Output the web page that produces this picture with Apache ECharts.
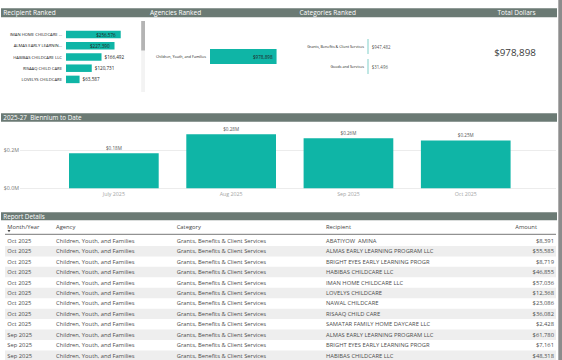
<!DOCTYPE html>
<html><head><meta charset="utf-8">
<script src="https://cdn.jsdelivr.net/npm/echarts@6/dist/echarts.min.js"></script>
<style>html,body{margin:0;padding:0;background:#fff}#c{width:562px;height:360px}</style>
</head><body><div id="c"></div>
<script>
// ---------- data ----------
const recipients = ['IMAN HOME CHILDCARE ...', 'ALMAS EARLY LEARNIN...', 'HABIBAS CHILDCARE LLC', 'RISAAQ CHILD CARE', 'LOVELYS CHILDCARE'];
const recipientTotals = [256576, 227390, 166492, 120731, 63587];
const agencies = ['Children, Youth, and Families'];
const agencyTotals = [978898];
const categories = ['Grants, Benefits & Client Services', 'Goods and Services'];
const categoryTotals = [947482, 31496];
const totalDollars = 978898;
const months = ['July 2025', 'Aug 2025', 'Sep 2025', 'Oct 2025'];
const monthTotals = [183900, 282700, 261748, 250550];
const monthTicks = [0, 200000];
const tableHeaders = ['Month/Year', 'Agency', 'Category', 'Recipient', 'Amount'];
const tableMonth = ['Oct 2025','Oct 2025','Oct 2025','Oct 2025','Oct 2025','Oct 2025','Oct 2025','Oct 2025','Oct 2025','Sep 2025','Sep 2025','Sep 2025'];
const tableAgency = ['Children, Youth, and Families','Children, Youth, and Families','Children, Youth, and Families','Children, Youth, and Families','Children, Youth, and Families','Children, Youth, and Families','Children, Youth, and Families','Children, Youth, and Families','Children, Youth, and Families','Children, Youth, and Families','Children, Youth, and Families','Children, Youth, and Families'];
const tableCategory = ['Grants, Benefits & Client Services','Grants, Benefits & Client Services','Grants, Benefits & Client Services','Grants, Benefits & Client Services','Grants, Benefits & Client Services','Grants, Benefits & Client Services','Grants, Benefits & Client Services','Grants, Benefits & Client Services','Grants, Benefits & Client Services','Grants, Benefits & Client Services','Grants, Benefits & Client Services','Grants, Benefits & Client Services'];
const tableRecipient = ['ABATIYOW  AMINA','ALMAS EARLY LEARNING PROGRAM LLC','BRIGHT EYES EARLY LEARNING PROGR','HABIBAS CHILDCARE LLC','IMAN HOME CHILDCARE LLC','LOVELYS CHILDCARE','NAWAL CHILDCARE','RISAAQ CHILD CARE','SAMATAR FAMILY HOME DAYCARE LLC','ALMAS EARLY LEARNING PROGRAM LLC','BRIGHT EYES EARLY LEARNING PROGR','HABIBAS CHILDCARE LLC'];
const tableAmount = [8391, 55585, 8719, 46855, 57036, 12368, 23086, 36082, 2428, 61780, 7161, 48318];

// ---------- styling ----------
const FONT = "'Segoe UI','Open Sans',sans-serif";
const TEAL = '#0fb5a6';
const HEAD = '#6b7a74';
const money = v => '$' + Math.round(v).toLocaleString('en-US');
const mill = (v, d) => '$' + (v / 1e6).toFixed(d) + 'M';

const chart = echarts.init(document.getElementById('c'), null, {renderer: 'svg'});

const g = [];
function rect(x, y, w, h, fill) { g.push({type: 'rect', silent: true, z: 1, shape: {x, y, width: w, height: h}, style: {fill}}); }
function text(t, x, y, size, fill, align) {
  g.push({type: 'text', silent: true, z: 5, x, y, style: {text: t, fontSize: size, fontFamily: FONT, fill, align: align || 'left', verticalAlign: 'middle'}});
}
// header bars
rect(1, 8.3, 556, 9, HEAD);
text('Recipient Ranked', 3.3, 12.9, 6.5, '#fff');
text('Agencies Ranked', 150, 12.9, 6.5, '#fff');
text('Categories Ranked', 299.5, 12.9, 6.5, '#fff');
text('Total Dollars', 497.5, 12.9, 6.5, '#fff');
rect(1, 113.3, 556, 8.5, HEAD);
text('2025-27  Biennium to Date', 3.3, 117.6, 6.3, '#fff');
rect(1, 212.3, 556, 8, HEAD);
text('Report Details', 3.3, 216.4, 6.3, '#fff');
// scrollbar
rect(141.2, 21, 3.8, 71, '#f3f3f3');
rect(141.2, 21, 3.8, 29.5, '#b4b4b4');
// right border
rect(558.3, 0, 3.7, 360, '#8c8c8c');
// total card
text(money(totalDollars), 515, 52.5, 9.8, '#3a3a3a', 'center');

// table
const colX = [7.3, 56, 176.7, 326, 554];
const rowY0 = 240.7, rowH = 10.45;
for (let i = 0; i < tableMonth.length; i++) {
  const cy = rowY0 + rowH * i;
  if (i % 2 === 1) rect(5, cy - rowH / 2, 551, rowH, '#eeeeee');
  text(tableMonth[i], colX[0], cy, 5.8, '#4d4d4d');
  text(tableAgency[i], colX[1], cy, 5.8, '#4d4d4d');
  text(tableCategory[i], colX[2], cy, 5.8, '#4d4d4d');
  text(tableRecipient[i], colX[3], cy, 5.8, '#4d4d4d');
  text(money(tableAmount[i]), colX[4], cy, 5.8, '#4d4d4d', 'right');
}
for (let k = 0; k < 4; k++) text(tableHeaders[k], colX[k], 226.7, 5.8, '#444');
text(tableHeaders[4], 537, 226.7, 5.8, '#444', 'right');
g.push({type: 'polygon', silent: true, z: 5, shape: {points: [[7.5, 230], [10.5, 230], [9, 232.2]]}, style: {fill: '#444'}});
g.push({type: 'line', silent: true, z: 5, shape: {x1: 5, y1: 234.3, x2: 556, y2: 234.3}, style: {stroke: '#777', lineWidth: 1}});

const recMax = Math.max(...recipientTotals);
const option = {
  animation: false,
  backgroundColor: '#fff',
  textStyle: {fontFamily: FONT},
  grid: [
    {left: 66, top: 29, width: 64, height: 56},
    {left: 210, top: 41, width: 68, height: 31},
    {left: 368, top: 36.5, width: 100, height: 40},
    {left: 55.2, top: 131, width: 469.2, height: 57.3},
    {left: 20, top: 131, width: 536, height: 57.3}
  ],
  xAxis: [
    {gridIndex: 0, type: 'value', min: 0, max: 300000, show: false},
    {gridIndex: 1, type: 'value', min: 0, max: 1000000, show: false},
    {gridIndex: 2, type: 'value', min: 0, max: 1, show: false},
    {gridIndex: 3, type: 'category', data: months, axisLine: {show: false}, axisTick: {show: false},
     axisLabel: {fontSize: 5.3, color: '#a5a5a5', margin: 3, fontFamily: FONT}},
    {gridIndex: 4, type: 'value', min: 0, max: 1, show: false}
  ],
  yAxis: [
    {gridIndex: 0, type: 'category', data: recipients, inverse: true, axisLine: {show: false}, axisTick: {show: false},
     axisLabel: {fontSize: 4.2, color: '#222', margin: 4, interval: 0, fontFamily: FONT}},
    {gridIndex: 1, type: 'category', data: agencies, inverse: true, axisLine: {show: false}, axisTick: {show: false},
     axisLabel: {fontSize: 3.7, color: '#222', margin: 4, fontFamily: FONT}},
    {gridIndex: 2, type: 'category', data: categories, inverse: true, axisLine: {show: false}, axisTick: {show: false},
     axisLabel: {fontSize: 3.7, color: '#222', margin: 4, interval: 0, fontFamily: FONT}},
    {gridIndex: 3, type: 'value', min: 0, max: 300000, show: false},
    {gridIndex: 4, type: 'value', min: 0, max: 300000, interval: 200000, axisLine: {show: false}, axisTick: {show: false},
     splitLine: {show: true, showMaxLine: false, lineStyle: {color: '#ececec', width: 1}},
     axisLabel: {fontSize: 5.3, color: '#777', margin: 1, showMaxLabel: false, fontFamily: FONT, formatter: v => mill(v, 1)}}
  ],
  series: [
    {type: 'bar', xAxisIndex: 0, yAxisIndex: 0, barWidth: 7.5, itemStyle: {color: TEAL},
     data: recipientTotals.map(v => ({value: v, label: v >= 0.8 * recMax ? {position: 'insideRight', distance: 5} : {position: 'right', distance: 3}})),
     label: {show: true, fontSize: 4.6, color: '#222', fontFamily: FONT, formatter: p => money(p.value)}},
    {type: 'bar', xAxisIndex: 1, yAxisIndex: 1, barWidth: 15, itemStyle: {color: TEAL}, data: agencyTotals,
     label: {show: true, position: 'insideRight', distance: 4, fontSize: 4.6, color: '#222', fontFamily: FONT, formatter: p => money(p.value)}},
    {type: 'scatter', xAxisIndex: 2, yAxisIndex: 2, symbol: 'rect', symbolSize: [1.4, 15], itemStyle: {color: '#8fd4ce'},
     data: categoryTotals.map((v, i) => [0, i]),
     label: {show: true, position: 'right', distance: 3, fontSize: 4.4, color: '#222', fontFamily: FONT, formatter: p => money(categoryTotals[p.dataIndex])}},
    {type: 'bar', xAxisIndex: 3, yAxisIndex: 3, barWidth: 89.7, itemStyle: {color: TEAL}, data: monthTotals,
     label: {show: true, position: 'top', distance: 2.5, fontSize: 4.6, color: '#555', fontFamily: FONT, formatter: p => mill(p.value, 2)}}
  ],
  graphic: g
};
chart.setOption(option);
</script>
</body></html>
